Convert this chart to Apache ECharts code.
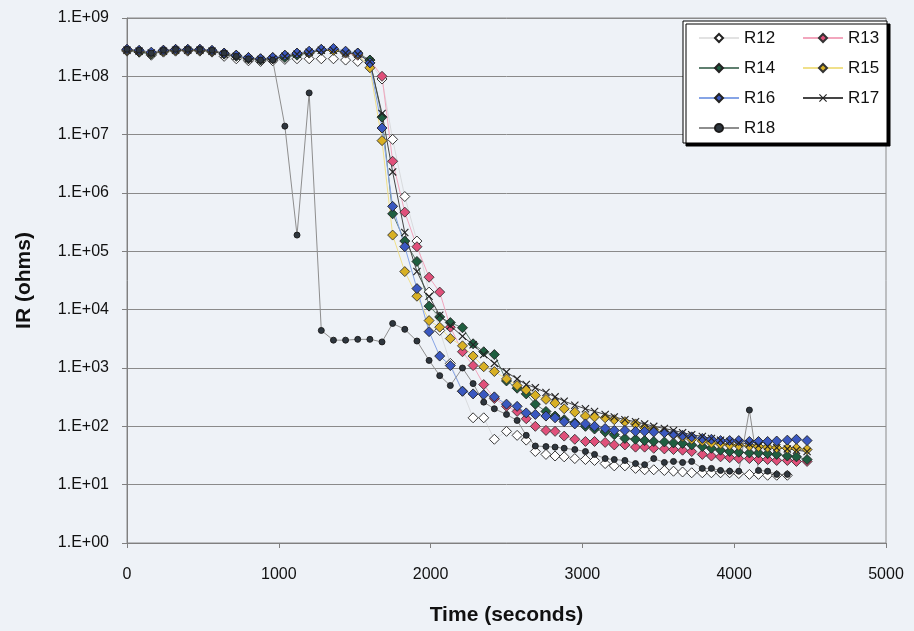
<!DOCTYPE html>
<html>
<head>
<meta charset="utf-8">
<script src="https://cdn.jsdelivr.net/npm/echarts@6/dist/echarts.min.js"></script>
<style>
  html, body { margin: 0; padding: 0; background: #eef2f7; }
  #chart { width: 914px; height: 631px; }
</style>
</head>
<body>
<div id="chart"></div>
<script>
// Sample times (s) shared by all sensors
const times = [0,80,160,240,320,400,480,560,640,720,800,880,960,1040,1120,1200,1280,1360,1440,1520,1600,1680,
  1750,1830,1910,1990,2060,2130,2210,2280,2350,2420,2500,2570,2630,2690,2760,2820,2880,2950,3020,3080,
  3150,3210,3280,3350,3410,3470,3540,3600,3660,3720,3790,3850,3910,3970,4030,4100,4160,4220,4280,4350,4410,4480];

// Insulation resistance (ohms) for each sensor
const R12 = [2.7e8,2.6e8,2.3e8,2.6e8,2.7e8,2.7e8,2.7e8,2.6e8,2.2e8,2.0e8,1.85e8,1.8e8,1.85e8,1.95e8,2.0e8,2.0e8,2.0e8,2.0e8,1.9e8,1.8e8,1.7e8,
  9e7,8.3e6,8.7e5,1.5e5,2.0e4,4.4e3,1.2e3,4.0e2,1.4e2,1.4e2,60,82,70,58,37,33,31,30,28,27,26,23,21,21,19,18,18,17.5,17,16.5,16,16,16,16,16,15.5,15,15,14.5,14.5,14.5,null,null];
const R13 = [2.9e8,2.7e8,2.5e8,2.8e8,2.9e8,2.8e8,2.9e8,2.7e8,2.5e8,2.3e8,2.0e8,1.95e8,2.0e8,2.2e8,2.4e8,2.6e8,2.8e8,2.9e8,2.5e8,2.3e8,1.9e8,
  1.0e8,3.5e6,4.7e5,1.2e5,3.6e4,2.0e4,5.0e3,1.9e3,1.1e3,5.2e2,3.0e2,2.2e2,1.8e2,1.35e2,1.0e2,85,82,68,60,55,55,53,48,48,44,44,42,41,40,39,37,33,31,30,29,28,28,27,27,26,26,25,25];
const R14 = [2.8e8,2.6e8,2.4e8,2.7e8,2.8e8,2.9e8,2.8e8,2.7e8,2.4e8,2.2e8,2.0e8,1.9e8,2.0e8,2.1e8,2.3e8,2.5e8,2.8e8,2.8e8,2.6e8,2.5e8,1.9e8,
  2.0e7,4.4e5,1.5e5,6.7e4,1.15e4,7.5e3,6.0e3,4.9e3,2.6e3,1.9e3,1.7e3,6.0e2,4.5e2,3.6e2,2.4e2,1.8e2,1.5e2,1.3e2,1.15e2,1.0e2,90,80,72,62,60,57,55,54,52,51,48,45,42,39,37,36,35,35,34,33,31,30,27];
const R15 = [2.8e8,2.7e8,2.5e8,2.7e8,2.8e8,2.8e8,2.8e8,2.7e8,2.5e8,2.3e8,2.1e8,2.0e8,2.1e8,2.3e8,2.5e8,2.6e8,2.9e8,2.8e8,2.6e8,2.4e8,1.4e8,
  7.9e6,1.9e5,4.5e4,1.7e4,6.5e3,5.0e3,3.2e3,2.4e3,1.6e3,1.05e3,8.7e2,6.5e2,5.0e2,4.2e2,3.4e2,2.9e2,2.5e2,2.0e2,1.75e2,1.5e2,1.45e2,1.4e2,1.3e2,1.2e2,1.1e2,95,88,80,72,66,60,56,52,50,48,47,46,45,44,43,42,42,40];
const R16 = [2.9e8,2.8e8,2.6e8,2.8e8,2.9e8,2.9e8,2.9e8,2.8e8,2.5e8,2.3e8,2.1e8,2.0e8,2.1e8,2.3e8,2.5e8,2.7e8,2.9e8,3.0e8,2.7e8,2.5e8,1.7e8,
  1.3e7,5.9e5,1.2e5,2.3e4,4.2e3,1.6e3,1.1e3,4.0e2,3.6e2,3.5e2,3.2e2,2.4e2,2.2e2,1.7e2,1.6e2,1.5e2,1.4e2,1.2e2,1.1e2,1.1e2,100,92,85,85,82,82,80,78,74,70,66,62,60,57,57,57,55,55,55,56,58,60,57];
const R17 = [2.8e8,2.7e8,2.5e8,2.7e8,2.8e8,2.8e8,2.8e8,2.7e8,2.4e8,2.2e8,2.0e8,1.95e8,2.0e8,2.2e8,2.4e8,2.6e8,2.8e8,2.8e8,2.5e8,2.4e8,1.8e8,
  2.3e7,2.3e6,2.1e5,4.5e4,1.7e4,8.0e3,5.3e3,3.5e3,2.5e3,1.7e3,1.2e3,8.5e2,6.5e2,5.2e2,4.6e2,3.8e2,3.2e2,2.7e2,2.3e2,2.0e2,1.8e2,1.6e2,1.45e2,1.3e2,1.2e2,1.1e2,100,92,85,78,72,67,62,58,55,52,50,47,45,43,41,39,37];
const R18 = [2.9e8,2.8e8,2.5e8,2.8e8,2.9e8,2.9e8,2.9e8,2.8e8,2.5e8,2.2e8,2.0e8,1.9e8,1.9e8,
  1.4e7,1.9e5,5.2e7,4.4e3,3.0e3,3.0e3,3.1e3,3.1e3,2.8e3,5.8e3,4.6e3,2.9e3,1.35e3,7.4e2,5.0e2,1.0e3,5.4e2,2.6e2,2.0e2,1.6e2,1.26e2,70,46,45,44,42,40,37,33,28,27,26,23,22,28,24,25,24,25,19,19,17.5,17,17,190,17.5,17,15,15,null,null];

const xTicks = { min: 0, max: 5000, step: 1000 };
const yDecades = { min: 1, max: 1e9 };

const FONT = '"Liberation Sans", Arial, sans-serif';
const crossPath = 'path://M0,1L1,0L5,4L9,0L10,1L6,5L10,9L9,10L5,6L1,10L0,9L4,5Z';

const styles = {
  R12: { symbol: 'diamond', size: [10, 10], fill: '#ffffff', border: '#222', line: 'rgba(190,190,190,0.45)' },
  R13: { symbol: 'diamond', size: [10, 10], fill: '#e0507a', border: '#333', line: '#f2a6bd' },
  R14: { symbol: 'diamond', size: [10, 10], fill: '#1f5e40', border: '#222', line: '#5f7f6f' },
  R15: { symbol: 'diamond', size: [10, 10], fill: '#d8b024', border: '#333', line: '#f0e08a' },
  R16: { symbol: 'diamond', size: [10, 10], fill: '#3a58c0', border: '#222', line: '#86a4e6' },
  R17: { symbol: crossPath, size: [8, 8], fill: '#222222', border: 'transparent', line: '#454545' },
  R18: { symbol: 'circle', size: [6, 6], fill: '#2e363e', border: '#1a1a1a', line: '#8e8e8e' }
};
const seriesData = { R12, R13, R14, R15, R16, R17, R18 };

const series = Object.keys(seriesData).map(name => {
  const s = styles[name];
  return {
    name,
    type: 'line',
    data: times.map((t, i) => [t, seriesData[name][i]]),
    symbol: s.symbol,
    symbolSize: s.size,
    showAllSymbol: true,
    connectNulls: false,
    lineStyle: { color: s.line, width: 1 },
    itemStyle: { color: s.fill, borderColor: s.border, borderWidth: name === 'R17' ? 0 : 0.9 },
    emphasis: { disabled: true },
    animation: false
  };
});

const legendBase = {
  orient: 'vertical',
  itemWidth: 40,
  itemHeight: 10,
  itemGap: 10,
  textStyle: { fontFamily: FONT, fontSize: 17, color: '#111', lineHeight: 20, padding: [0, 0, 0, 0] },
  selectedMode: false,
  z: 5
};

const chart = echarts.init(document.getElementById('chart'), null, { renderer: 'canvas' });
chart.setOption({
  backgroundColor: '#eef2f7',
  animation: false,
  grid: { left: 127, right: 28, top: 18, bottom: 86, show: true, borderColor: '#8a8a8a', borderWidth: 1, backgroundColor: 'transparent' },
  xAxis: {
    type: 'value',
    min: xTicks.min, max: xTicks.max, interval: xTicks.step,
    name: 'Time (seconds)',
    nameLocation: 'middle',
    nameGap: 62,
    nameTextStyle: { fontFamily: FONT, fontSize: 21, fontWeight: 'bold', color: '#111' },
    axisLine: { show: true, lineStyle: { color: '#808080' } },
    axisTick: { show: true, length: 5, inside: false, lineStyle: { color: '#808080' } },
    axisLabel: { fontFamily: FONT, fontSize: 16, color: '#111', margin: 24, formatter: v => String(v) },
    splitLine: { show: false }
  },
  yAxis: {
    type: 'log',
    logBase: 10,
    min: yDecades.min, max: yDecades.max,
    name: 'IR (ohms)',
    nameLocation: 'middle',
    nameGap: 92,
    nameTextStyle: { fontFamily: FONT, fontSize: 21, fontWeight: 'bold', color: '#111' },
    axisLine: { show: true, lineStyle: { color: '#808080' } },
    axisTick: { show: true, length: 5, inside: false, lineStyle: { color: '#808080' } },
    axisLabel: {
      fontFamily: FONT, fontSize: 16, color: '#111', margin: 18,
      formatter: v => {
        const e = Math.round(Math.log10(v));
        return '1.E+' + (e < 10 ? '0' + e : e);
      }
    },
    splitLine: { show: true, lineStyle: { color: '#8a8a8a', width: 1 } }
  },
  legend: [
    Object.assign({}, legendBase, { data: ['R12', 'R14', 'R16', 'R18'], left: 693, top: 23 }),
    Object.assign({}, legendBase, { data: ['R13', 'R15', 'R17'], left: 797, top: 23 })
  ],
  graphic: [{
    type: 'rect',
    z: 4,
    shape: { x: 683, y: 21, width: 204, height: 122 },
    style: { fill: '#ffffff', stroke: '#000', lineWidth: 1, shadowColor: '#000', shadowOffsetX: 3, shadowOffsetY: 3, shadowBlur: 0 }
  }],
  series
});
</script>
</body>
</html>
